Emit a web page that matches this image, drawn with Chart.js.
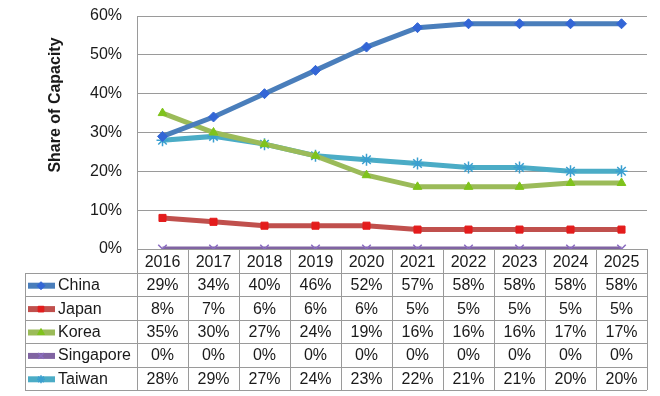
<!DOCTYPE html>
<html>
<head>
<meta charset="utf-8">
<script src="https://cdn.jsdelivr.net/npm/chart.js@4.4.1/dist/chart.umd.min.js"></script>
<style>
  body { margin: 0; background: #fff; }
  #wrap { width: 660px; height: 396px; }
</style>
</head>
<body>
<div id="wrap"><canvas id="myChart"></canvas></div>
<script>
const years = ["2016", "2017", "2018", "2019", "2020", "2021", "2022", "2023", "2024", "2025"];
const china = [0.29, 0.34, 0.40, 0.46, 0.52, 0.57, 0.58, 0.58, 0.58, 0.58];
const japan = [0.08, 0.07, 0.06, 0.06, 0.06, 0.05, 0.05, 0.05, 0.05, 0.05];
const korea = [0.35, 0.30, 0.27, 0.24, 0.19, 0.16, 0.16, 0.16, 0.17, 0.17];
const singapore = [0, 0, 0, 0, 0, 0, 0, 0, 0, 0];
const taiwan = [0.28, 0.29, 0.27, 0.24, 0.23, 0.22, 0.21, 0.21, 0.20, 0.20];
const yTicks = [0, 0.1, 0.2, 0.3, 0.4, 0.5, 0.6];

const fontName = "'Liberation Sans', Arial, sans-serif";
const headerH = 24;
const rowH = 23.4;
const tableLeft = 25;

function serie(label, data, line, point, style) {
    return {
        label: label,
        data: data,
        borderColor: line,
        backgroundColor: point,
        pointBackgroundColor: point,
        pointBorderColor: point,
        pointStyle: style,
        pointRadius: style == "crossRot" || style == "star" ? 6 : 5,
        pointBorderWidth: style == "crossRot" || style == "star" ? 1.5 : 1,
        borderWidth: 5,
        tension: 0
    };
}

const datasets = [
    serie("China", china, "#4a7ebb", "#3366d6", "rectRot"),
    serie("Japan", japan, "#c0504d", "#e41c1c", "rect"),
    serie("Korea", korea, "#9bbb59", "#7fc31c", "triangle"),
    serie("Singapore", singapore, "#8064a2", "#8a6cc0", "crossRot"),
    serie("Taiwan", taiwan, "#4bacc6", "#3a9fd0", "star")
];

function pct(v) {
    return Math.round(v * 100) + "%";
}

// data table under the plot + y title
const tablaPlugin = {
    id: "tabla",
    afterDraw(chart) {
        const ctx = chart.ctx;
        const area = chart.chartArea;
        const xs = chart.scales.x;
        const top = area.bottom;
        const rowsTop = top + headerH;
        const bottom = rowsTop + rowH * datasets.length;

        // column borders
        let cols = [area.left];
        for (let i = 0; i < years.length - 1; i++) {
            cols.push((xs.getPixelForValue(i) + xs.getPixelForValue(i + 1)) / 2);
        }
        cols.push(area.right);

        ctx.save();
        ctx.strokeStyle = "#9a9a9a";
        ctx.lineWidth = 1;
        ctx.beginPath();
        for (let r = 0; r <= datasets.length; r++) {
            let y = Math.round(rowsTop + r * rowH) + 0.5;
            ctx.moveTo(tableLeft, y);
            ctx.lineTo(area.right, y);
        }
        cols.forEach((c, i) => {
            let x = Math.round(c) + 0.5;
            ctx.moveTo(x, i == 0 ? area.top : top);
            ctx.lineTo(x, bottom);
        });
        ctx.moveTo(tableLeft + 0.5, rowsTop);
        ctx.lineTo(tableLeft + 0.5, bottom);
        ctx.stroke();

        ctx.font = "16px " + fontName;
        ctx.fillStyle = "#1a1a1a";
        ctx.textBaseline = "middle";
        datasets.forEach((ds, r) => {
            let yc = rowsTop + r * rowH + rowH / 2 + 1;
            // legend key
            ctx.strokeStyle = ds.borderColor;
            ctx.lineWidth = 6;
            ctx.beginPath();
            ctx.moveTo(tableLeft + 3, yc);
            ctx.lineTo(tableLeft + 30, yc);
            ctx.stroke();
            ctx.fillStyle = ds.pointBackgroundColor;
            ctx.strokeStyle = ds.pointBorderColor;
            ctx.lineWidth = ds.pointBorderWidth;
            Chart.helpers.drawPoint(ctx, {pointStyle: ds.pointStyle, radius: 4, rotation: 0, borderWidth: ds.pointBorderWidth}, tableLeft + 16, yc);
            ctx.fillStyle = "#1a1a1a";
            ctx.textAlign = "left";
            ctx.fillText(ds.label, tableLeft + 33, yc);
            ctx.textAlign = "center";
            ds.data.forEach((v, i) => {
                ctx.fillText(pct(v), xs.getPixelForValue(i), yc);
            });
        });

        // y axis title
        ctx.translate(56, 105);
        ctx.rotate(-Math.PI / 2);
        ctx.font = "bold 16px " + fontName;
        ctx.textAlign = "center";
        ctx.fillText("Share of Capacity", 0, 0);
        ctx.restore();
    }
};

const config = {
    type: "line",
    data: { labels: years, datasets: datasets },
    options: {
        responsive: true,
        maintainAspectRatio: false,
        animation: false,
        layout: { padding: { top: 16, right: 13, bottom: 6, left: 0 } },
        plugins: {
            legend: { display: false },
            tooltip: { enabled: false }
        },
        scales: {
            x: {
                offset: true,
                grid: { display: false, drawTicks: false },
                border: { display: false },
                ticks: {
                    padding: 4,
                    color: "#1a1a1a",
                    font: { family: fontName, size: 16 }
                },
                afterFit: (s) => { s.height = headerH + rowH * 5; }
            },
            y: {
                min: 0,
                max: 0.6,
                afterBuildTicks: (s) => { s.ticks = yTicks.map(v => ({ value: v })); },
                grid: { color: "#9a9a9a", drawTicks: false },
                border: { display: false },
                ticks: {
                    padding: 15,
                    color: "#1a1a1a",
                    font: { family: fontName, size: 16 },
                    callback: (v) => pct(v)
                },
                afterFit: (s) => {
                    s.width = 137;
                    s.paddingTop = 0;
                    s.paddingBottom = 0;
                }
            }
        }
    },
    plugins: [tablaPlugin]
};

window.onload = () => {
    const myChart = new Chart("myChart", config);
};
</script>
</body>
</html>
